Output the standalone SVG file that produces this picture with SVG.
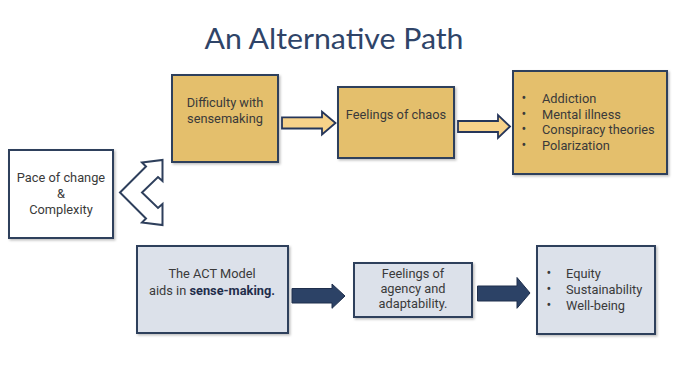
<svg xmlns="http://www.w3.org/2000/svg" width="680" height="377" viewBox="0 0 680 377">
<defs>
<filter id="sh" x="-10%" y="-10%" width="130%" height="130%">
<feDropShadow dx="1.5" dy="1.5" stdDeviation="1.2" flood-color="#000" flood-opacity="0.25"/>
</filter>
</defs>
<style>
.t{font-family:Roboto,"Liberation Sans",sans-serif;font-size:12.8px;fill:#3a3a3a}
.c{text-anchor:middle}
.b{font-size:14px}
.gold{fill:#e4bf6c;stroke:#2e3f5c;stroke-width:2}
.pale{fill:#dce1ea;stroke:#2e3f5c;stroke-width:2}
.white{fill:#ffffff;stroke:#2e3f5c;stroke-width:2}
.ya{fill:#f7d28a;stroke:#26365a;stroke-width:1.8;stroke-linejoin:miter}
.na{fill:#2c4266;stroke:#1f2f4c;stroke-width:1}
.title{font-family:Lato,"Open Sans",sans-serif;font-weight:400;font-size:29px;fill:#2f4468;text-anchor:middle}
</style>
<rect width="680" height="377" fill="#ffffff"/>
<text class="title" x="334" y="49" textLength="259" lengthAdjust="spacingAndGlyphs">An Alternative Path</text>

<g id="pace">
<rect class="white" x="9" y="150" width="104" height="88" filter="url(#sh)"/>
<text class="t c" x="61" y="182">Pace of change</text>
<text class="t c" x="61" y="198">&amp;</text>
<text class="t c" x="61" y="214">Complexity</text>
</g>

<g id="difficulty">
<rect class="gold" x="172" y="75" width="106" height="87" filter="url(#sh)"/>
<text class="t c" x="225" y="107">Difficulty with</text>
<text class="t c" x="225" y="122.5">sensemaking</text>
</g>

<g id="chaos">
<rect class="gold" x="338" y="87" width="116" height="71" filter="url(#sh)"/>
<text class="t c" x="396" y="118.5">Feelings of chaos</text>
</g>

<g id="harms">
<rect class="gold" x="513" y="71" width="154" height="103" filter="url(#sh)"/>
<g class="t">
<text class="b" x="521.5" y="103">•</text><text x="542" y="103">Addiction</text>
<text class="b" x="521.5" y="118.5">•</text><text x="542" y="118.5">Mental illness</text>
<text class="b" x="521.5" y="134">•</text><text x="542" y="134">Conspiracy theories</text>
<text class="b" x="521.5" y="150">•</text><text x="542" y="150">Polarization</text>
</g>
</g>

<g id="act">
<rect class="pale" x="137" y="246" width="151" height="87" filter="url(#sh)"/>
<text class="t c" x="212" y="277.5">The ACT Model</text>
<text class="t c" x="212" y="295">aids in <tspan font-weight="bold" fill="#1f2d4a">sense-making.</tspan></text>
</g>

<g id="agency">
<rect class="pale" x="354" y="263" width="118" height="54" filter="url(#sh)"/>
<text class="t c" x="413" y="278">Feelings of</text>
<text class="t c" x="413" y="293">agency and</text>
<text class="t c" x="413" y="308">adaptability.</text>
</g>

<g id="outcomes">
<rect class="pale" x="537" y="246" width="118" height="88" filter="url(#sh)"/>
<g class="t">
<text class="b" x="546.5" y="278">•</text><text x="566" y="278">Equity</text>
<text class="b" x="546.5" y="294">•</text><text x="566" y="294">Sustainability</text>
<text class="b" x="546.5" y="310">•</text><text x="566" y="310">Well-being</text>
</g>
</g>

<g id="connectors">
<path class="white" stroke-width="1.6" d="M120,192.5 L146,166.5 L142,162.5 L162.5,160 L162.5,181 L158,177 L142,192.5 L158,208 L162.5,204 L162.5,225 L142,222.5 L146,218.5 Z"/>
<path class="ya" d="M282,117.3 L322,117.3 L322,111.7 L335.5,123 L322,134.5 L322,128.5 L282,128.5 Z"/>
<path class="ya" d="M458,121 L498,121 L498,115 L510,126.5 L498,138 L498,132 L458,132 Z"/>
<path class="na" d="M292,288.5 L332,288.5 L332,284 L345,296 L332,308.3 L332,303 L292,303 Z"/>
<path class="na" d="M477.5,286 L517,286 L517,277.5 L530,293 L517,308.3 L517,301 L477.5,301 Z"/>
</g>
</svg>
